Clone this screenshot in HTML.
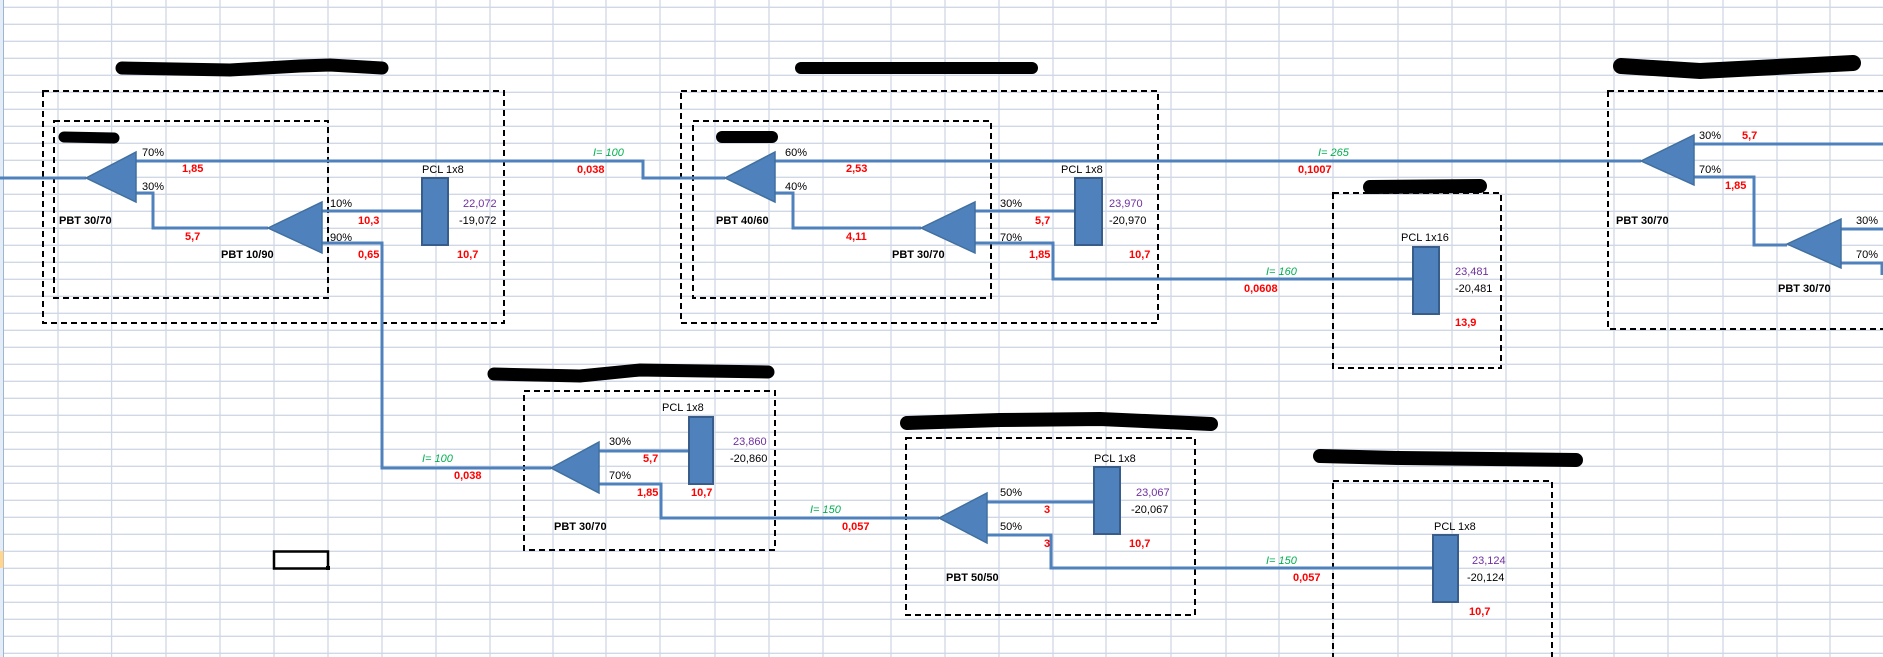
<!DOCTYPE html>
<html><head><meta charset="utf-8"><style>
html,body{margin:0;padding:0;background:#fff;width:1883px;height:657px;overflow:hidden}
svg{display:block}
text{font-family:"Liberation Sans",sans-serif;font-size:11px;dominant-baseline:central}
.k{fill:#000}.r{fill:#ff0000;font-weight:bold}.p{fill:#7030a0}.g{fill:#00b050;font-style:italic}.b{font-weight:bold}
</style></head><body>
<svg width="1883" height="657" viewBox="0 0 1883 657" xmlns="http://www.w3.org/2000/svg">
<rect width="1883" height="657" fill="#fff"/>
<g stroke="#d0d7e5" stroke-width="1.3">
<path d="M58 0V657M111.6 0V657M166 0V657M220 0V657M274 0V657M328 0V657M382 0V657M436 0V657M490 0V657M553 0V657M606 0V657M660 0V657M715 0V657M769 0V657M823 0V657M891 0V657M945 0V657M999 0V657M1053 0V657M1106 0V657M1171 0V657M1226 0V657M1279 0V657M1333 0V657M1398 0V657M1452 0V657M1506 0V657M1560 0V657M1614 0V657M1668 0V657M1723 0V657M1777 0V657M1830 0V657"/>
<path d="M0 7.3H1883M0 24.3H1883M0 41.3H1883M0 58.3H1883M0 75.3H1883M0 92.3H1883M0 109.3H1883M0 126.3H1883M0 143.3H1883M0 160.3H1883M0 177.3H1883M0 194.3H1883M0 211.3H1883M0 228.3H1883M0 245.3H1883M0 262.3H1883M0 279.3H1883M0 296.3H1883M0 313.3H1883M0 330.3H1883M0 347.3H1883M0 364.3H1883M0 381.3H1883M0 398.3H1883M0 415.3H1883M0 432.3H1883M0 449.3H1883M0 466.3H1883M0 483.3H1883M0 500.3H1883M0 517.3H1883M0 534.3H1883M0 551.3H1883M0 568.3H1883M0 585.3H1883M0 602.3H1883M0 619.3H1883M0 636.3H1883M0 653.3H1883"/>
</g>
<rect x="0" y="0" width="3.5" height="657" fill="#e4ecf7"/>
<line x1="3.5" y1="0" x2="3.5" y2="657" stroke="#9eb6ce" stroke-width="1"/>
<rect x="0" y="551" width="3.5" height="17" fill="#ffd58f"/>
<rect x="274" y="551.5" width="54" height="17" fill="none" stroke="#000" stroke-width="2.5"/>
<rect x="326" y="566" width="4" height="4" fill="#000"/>

<!-- redaction blobs -->
<g stroke="#000" stroke-linecap="round" fill="none">
<path d="M122 68 L230 70 L300 66 L330 65 L382 68" stroke-width="13"/>
<path d="M64 137 L114 138" stroke-width="11"/>
<path d="M722 137 L772 137" stroke-width="12"/>
<path d="M801 68 L1032 68" stroke-width="12"/>
<path d="M1621 66 L1700 71 L1853 63" stroke-width="16"/>
<path d="M1370 187 L1480 186" stroke-width="14"/>
<path d="M494 374 L580 376 L640 370 L768 372" stroke-width="13"/>
<path d="M907 423 L1000 420 L1100 419 L1211 424" stroke-width="14"/>
<path d="M1320 456 L1400 458 L1576 460" stroke-width="14"/>
</g>

<!-- dashed boxes -->
<g fill="none" stroke="#000" stroke-width="2" stroke-dasharray="6,4">
<rect x="43" y="91" width="461" height="232"/>
<rect x="54" y="121" width="274" height="177"/>
<rect x="681" y="91" width="477" height="232"/>
<rect x="693" y="121" width="298" height="177"/>
<rect x="1333" y="193" width="168" height="175"/>
<rect x="1608" y="91" width="290" height="238"/>
<rect x="524" y="391" width="251" height="159"/>
<rect x="906" y="438" width="289" height="177"/>
<rect x="1333" y="481" width="219" height="190"/>
</g>

<!-- connectors -->
<g fill="none" stroke="#4f81bd" stroke-width="3">
<path d="M0 178H86"/>
<path d="M136 161H643V178H725"/>
<path d="M136 193H153V228H268"/>
<path d="M322 211H422"/>
<path d="M322 243H382V468H551"/>
<path d="M775 161H1641"/>
<path d="M775 193H793V228H921"/>
<path d="M975 211H1075"/>
<path d="M975 243H1053V279H1413"/>
<path d="M1694 144H1883"/>
<path d="M1694 177H1754V245H1787"/>
<path d="M1841 229H1883"/>
<path d="M1841 263H1882V275"/>
<path d="M599 451H689"/>
<path d="M599 484H661V518H939"/>
<path d="M987 502H1094"/>
<path d="M987 535H1051V568H1433"/>
</g>

<!-- triangles -->
<g fill="#4f81bd" stroke="#41709f" stroke-width="1.5">
<polygon points="86,178 136,152 136,202"/>
<polygon points="268,228 322,202 322,253"/>
<polygon points="725,178 775,152 775,202"/>
<polygon points="921,228 975,202 975,253"/>
<polygon points="1641,161 1694,135 1694,185"/>
<polygon points="1787,244 1841,219 1841,268"/>
<polygon points="551,468 599,442 599,493"/>
<polygon points="939,518 987,493 987,543"/>
</g>
<!-- PCL rects -->
<g fill="#4f81bd" stroke="#385d8a" stroke-width="2">
<rect x="422" y="178" width="26" height="67"/>
<rect x="1075" y="178" width="27" height="67"/>
<rect x="1413" y="247" width="26" height="67"/>
<rect x="689" y="417" width="24" height="67"/>
<rect x="1094" y="467" width="26" height="67"/>
<rect x="1433" y="535" width="25" height="67"/>
</g>

<!-- box 1 texts -->
<text class="k" x="142" y="153">70%</text>
<text class="r" x="182" y="169">1,85</text>
<text class="k" x="142" y="187">30%</text>
<text class="b" x="59" y="221">PBT 30/70</text>
<text class="r" x="185" y="237">5,7</text>
<text class="b" x="221" y="255">PBT 10/90</text>
<text class="k" x="330" y="204">10%</text>
<text class="r" x="358" y="221">10,3</text>
<text class="k" x="330" y="238">90%</text>
<text class="r" x="358" y="255">0,65</text>
<text class="k" x="422" y="170">PCL 1x8</text>
<text class="p" x="463" y="204">22,072</text>
<text class="k" x="459" y="221">-19,072</text>
<text class="r" x="457" y="255">10,7</text>
<text class="g" x="593" y="153">I=  100</text>
<text class="r" x="577" y="170">0,038</text>

<!-- box 2 -->
<text class="k" x="785" y="153">60%</text>
<text class="r" x="846" y="169">2,53</text>
<text class="k" x="785" y="187">40%</text>
<text class="b" x="716" y="221">PBT 40/60</text>
<text class="r" x="846" y="237">4,11</text>
<text class="b" x="892" y="255">PBT 30/70</text>
<text class="k" x="1000" y="204">30%</text>
<text class="r" x="1035" y="221">5,7</text>
<text class="k" x="1000" y="238">70%</text>
<text class="r" x="1029" y="255">1,85</text>
<text class="k" x="1061" y="170">PCL 1x8</text>
<text class="p" x="1109" y="204">23,970</text>
<text class="k" x="1109" y="221">-20,970</text>
<text class="r" x="1129" y="255">10,7</text>
<text class="g" x="1318" y="153">I=  265</text>
<text class="r" x="1298" y="170">0,1007</text>
<text class="g" x="1266" y="272">I=  160</text>
<text class="r" x="1244" y="289">0,0608</text>

<!-- box 5 -->
<text class="k" x="1401" y="238">PCL 1x16</text>
<text class="p" x="1455" y="272">23,481</text>
<text class="k" x="1455" y="289">-20,481</text>
<text class="r" x="1455" y="323">13,9</text>

<!-- box 7 -->
<text class="k" x="1699" y="136">30%</text>
<text class="r" x="1742" y="136">5,7</text>
<text class="k" x="1699" y="170">70%</text>
<text class="r" x="1725" y="186">1,85</text>
<text class="b" x="1616" y="221">PBT 30/70</text>
<text class="k" x="1856" y="221">30%</text>
<text class="k" x="1856" y="255">70%</text>
<text class="b" x="1778" y="289">PBT 30/70</text>

<!-- box 3 -->
<text class="g" x="422" y="459">I=  100</text>
<text class="r" x="454" y="476">0,038</text>
<text class="k" x="662" y="408">PCL 1x8</text>
<text class="k" x="609" y="442">30%</text>
<text class="r" x="643" y="459">5,7</text>
<text class="p" x="733" y="442">23,860</text>
<text class="k" x="730" y="459">-20,860</text>
<text class="k" x="609" y="476">70%</text>
<text class="r" x="637" y="493">1,85</text>
<text class="r" x="691" y="493">10,7</text>
<text class="b" x="554" y="527">PBT 30/70</text>
<text class="g" x="810" y="510">I=  150</text>
<text class="r" x="842" y="527">0,057</text>

<!-- box 4 -->
<text class="k" x="1094" y="459">PCL 1x8</text>
<text class="k" x="1000" y="493">50%</text>
<text class="r" x="1044" y="510">3</text>
<text class="k" x="1000" y="527">50%</text>
<text class="r" x="1044" y="544">3</text>
<text class="p" x="1136" y="493">23,067</text>
<text class="k" x="1131" y="510">-20,067</text>
<text class="r" x="1129" y="544">10,7</text>
<text class="b" x="946" y="578">PBT 50/50</text>
<text class="g" x="1266" y="561">I=  150</text>
<text class="r" x="1293" y="578">0,057</text>

<!-- box 6 -->
<text class="k" x="1434" y="527">PCL 1x8</text>
<text class="p" x="1472" y="561">23,124</text>
<text class="k" x="1467" y="578">-20,124</text>
<text class="r" x="1469" y="612">10,7</text>
</svg>
</body></html>
